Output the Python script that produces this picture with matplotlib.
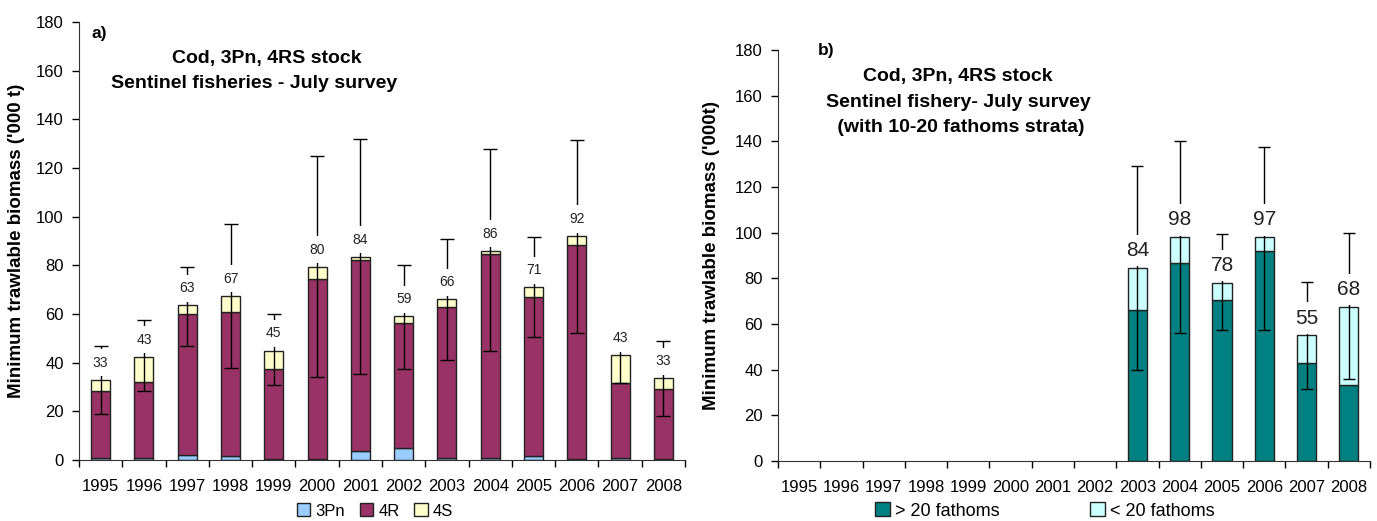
import numpy as np
import matplotlib.pyplot as plt
from matplotlib.patches import Patch

plt.rcParams['font.family'] = ['Liberation Sans', 'DejaVu Sans']

years = [str(y) for y in range(1995, 2009)]

# panel a) - biomass by zone ('000 t)
b_3pn = [1.0, 1.0, 2.0, 1.5, 0.5, 0.5, 3.5, 5.0, 1.0, 1.0, 1.5, 0.5, 1.0, 0.3]
b_4r = [27.5, 31.0, 58.0, 59.5, 37.0, 74.0, 78.5, 51.5, 62.0, 83.5, 65.5, 88.0, 30.5, 28.7]
b_4s = [4.5, 10.5, 3.5, 6.5, 7.5, 5.0, 1.5, 2.5, 3.0, 1.5, 4.0, 3.5, 11.5, 4.5]
lab_a = [33, 43, 63, 67, 45, 80, 84, 59, 66, 86, 71, 92, 43, 33]
lo_a = [19, 28.5, 47, 38, 31, 34, 35.5, 37.5, 41, 45, 50.5, 52, 31.5, 18]
hi_a = [47, 57.5, 79.5, 97, 60, 125, 132, 80, 91, 128, 91.5, 131.5, 55, 49]

# panel b) - with 10-20 fathoms strata
nan = np.nan
b_deep = [nan] * 8 + [66, 86.5, 70.5, 92, 43, 33.5]
b_shallow = [nan] * 8 + [18.5, 11.5, 7.5, 6, 12, 34]
lab_b = [None] * 8 + [84, 98, 78, 97, 55, 68]
lo_b = [nan] * 8 + [40, 56, 57.5, 57.5, 31.5, 36]
hi_b = [nan] * 8 + [129, 140, 99.5, 137.5, 78.5, 100]

W, H = 1377, 521
fig = plt.figure(figsize=(W / 100, H / 100), dpi=100)
ax1 = fig.add_axes([79 / W, 1 - 460 / H, (685 - 79) / W, (460 - 22) / H])
ax2 = fig.add_axes([778 / W, 1 - 461 / H, (1370 - 778) / W, (461 - 50) / H])

x = np.arange(len(years))


def style(ax, ylab, lx):
    ax.set_xlim(-0.5, len(years) - 0.5)
    ax.set_ylim(0, 180)
    ax.set_yticks(range(0, 181, 20))
    ax.set_xticks(x)
    ax.set_xticklabels(years)
    ax.set_xticks(np.arange(-0.5, len(years)), minor=True)
    ax.tick_params(axis='x', which='major', length=0, pad=14, labelsize=12)
    ax.tick_params(axis='x', which='minor', length=5, width=1, direction='out')
    ax.tick_params(axis='y', length=5, width=1, pad=6, labelsize=12)
    for s in ['top', 'right']:
        ax.spines[s].set_visible(False)
    ax.spines['left'].set_color('#333333')
    ax.spines['bottom'].set_color('#333333')
    ax.set_ylabel(ylab, fontsize=13.5, fontweight='bold')
    ax.yaxis.set_label_coords(lx, 0.5)


# ---- panel a
w = 0.44
c3, c4r, c4s = '#99CCFF', '#993366', '#FFFFCC'
ax1.bar(x, b_3pn, w, color=c3, edgecolor='#222222', lw=1, zorder=2)
ax1.bar(x, b_4r, w, bottom=b_3pn, color=c4r, edgecolor='#222222', lw=1, zorder=2)
bot = np.array(b_3pn) + np.array(b_4r)
ax1.bar(x, b_4s, w, bottom=bot, color=c4s, edgecolor='#222222', lw=1, zorder=2)
tot_a = bot + np.array(b_4s)
ax1.errorbar(x, tot_a, yerr=[tot_a - np.array(lo_a), np.array(hi_a) - tot_a],
             fmt='none', ecolor='black', elinewidth=1, capsize=5, capthick=1, zorder=3)
for i, v in enumerate(lab_a):
    ax1.text(x[i], tot_a[i] + 7, str(v), ha='center', va='center', fontsize=10,
             color='#222222', zorder=4,
             bbox=dict(facecolor='white', edgecolor='none', pad=4.8))
style(ax1, "Minimum trawlable biomass ('000 t)", -0.089)

fig.text(91 / W, 1 - 33.5 / H, 'a)', fontsize=12.5, fontweight='bold', va='center')
fig.text(267 / W, 1 - 58 / H, 'Cod, 3Pn, 4RS stock', fontsize=14,
         fontweight='bold', ha='center', va='center')
fig.text(254 / W, 1 - 83 / H, 'Sentinel fisheries - July survey', fontsize=14,
         fontweight='bold', ha='center', va='center')

h1 = [Patch(facecolor=c, edgecolor='#222222', lw=1) for c in (c3, c4r, c4s)]
fig.legend(h1, ['3Pn', '4R', '4S'], loc='center', bbox_to_anchor=(375 / W, 1 - 511 / H),
           ncol=3, frameon=False, fontsize=12, handlelength=0.8, handleheight=0.8,
           handletextpad=0.3, columnspacing=0.9)

# ---- panel b
w2 = 0.45
cd, cs = '#008080', '#CCFFFF'
ax2.bar(x, b_deep, w2, color=cd, edgecolor='#222222', lw=1, zorder=2)
ax2.bar(x, b_shallow, w2, bottom=b_deep, color=cs, edgecolor='#222222', lw=1, zorder=2)
tot_b = np.array(b_deep) + np.array(b_shallow)
ax2.errorbar(x, tot_b, yerr=[tot_b - np.array(lo_b), np.array(hi_b) - tot_b],
             fmt='none', ecolor='black', elinewidth=1, capsize=4, capthick=1, zorder=3)
for i, v in enumerate(lab_b):
    if v is None:
        continue
    ax2.text(x[i], tot_b[i] + 7.6, str(v), ha='center', va='center', fontsize=15,
             color='#222222', zorder=4,
             bbox=dict(facecolor='white', edgecolor='none', pad=4.5))
style(ax2, "Minimum trawlable biomass ('000t)", -0.098)

fig.text(818 / W, 1 - 51 / H, 'b)', fontsize=12.5, fontweight='bold', va='center')
for txt, yy in [('Cod, 3Pn, 4RS stock', 77), ('Sentinel fishery- July survey', 103),
                (' (with 10-20 fathoms strata)', 128)]:
    fig.text(958 / W, 1 - yy / H, txt, fontsize=14, fontweight='bold',
             ha='center', va='center')

h2 = [Patch(facecolor=c, edgecolor='#222222', lw=1) for c in (cd, cs)]
fig.legend(h2, ['> 20 fathoms', '< 20 fathoms'], loc='center',
           bbox_to_anchor=(1045 / W, 1 - 511 / H), ncol=2, frameon=False, fontsize=13,
           handlelength=0.8, handleheight=0.8, handletextpad=0.3, columnspacing=5.0)

fig.savefig('out.png', dpi=100)
